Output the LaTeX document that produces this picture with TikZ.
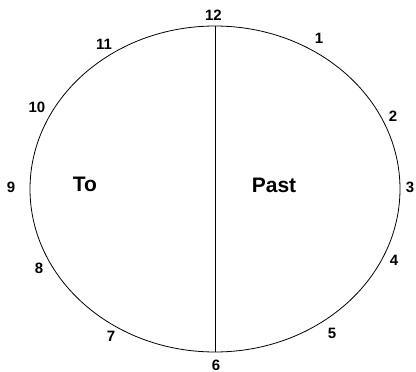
\documentclass[tikz,border=0pt]{standalone}
\usepackage{fontspec}
\setmainfont{Liberation Sans}
\begin{document}
\begin{tikzpicture}[x=1pt,y=-1pt,
	hour/.style={font=\fontsize{15}{15}\selectfont\bfseries, inner sep=0pt},
	half/.style={font=\fontsize{21}{21}\selectfont\bfseries, inner sep=0pt}]
	\newcommand{\midx}{215}
	\newcommand{\midy}{189}
	\newcommand{\radx}{185}
	\newcommand{\rady}{163}
	\useasboundingbox (0,0) rectangle (416,372);
	%clock face
	\draw [line width=0.8pt] (\midx,\midy) ellipse [x radius=\radx, y radius=\rady];
	\coordinate (top) at (\midx,\midy-\rady);
	\coordinate (bottom) at (\midx,\midy+\rady);
	\draw [line width=0.8pt] (top) -- (bottom);
	%hours
	\node [hour] (h12) at (213.5,15.5) {12};
	\node [hour] (h1) at (319,38) {1};
	\node [hour] (h2) at (393,116) {2};
	\node [hour] (h3) at (410,187) {3};
	\node [hour] (h4) at (394,260) {4};
	\node [hour] (h5) at (332,333) {5};
	\node [hour] (h6) at (216,365) {6};
	\node [hour] (h7) at (111,336) {7};
	\node [hour] (h8) at (39,268) {8};
	\node [hour] (h9) at (11,187) {9};
	\node [hour] (h10) at (37,107) {10};
	\node [hour] (h11) at (104,44) {11};
	%halves
	\node [half] (to) at (85,184) {To};
	\node [half] (past) at (274,185) {Past};
\end{tikzpicture}
\end{document}
